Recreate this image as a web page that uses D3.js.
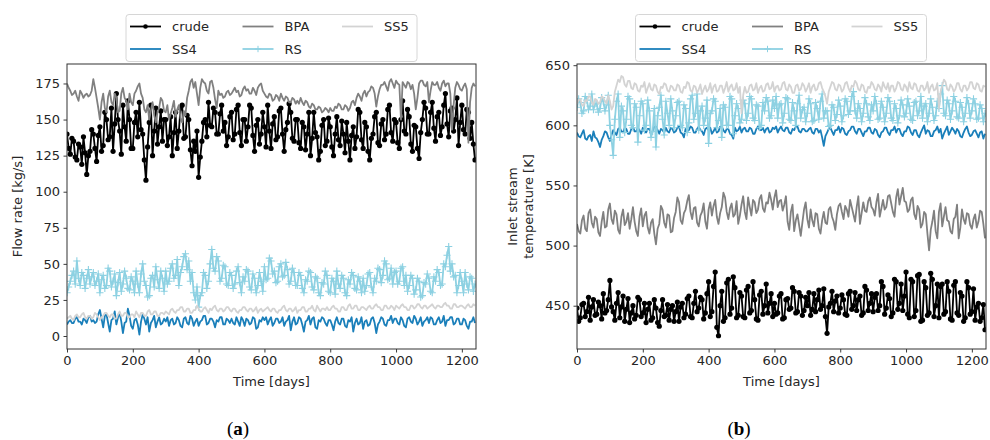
<!DOCTYPE html>
<html><head><meta charset="utf-8">
<script src="https://cdn.jsdelivr.net/npm/d3@7"></script>
<style>body{margin:0;background:#fff}svg{display:block}</style>
</head><body>
<svg id="chart" width="990" height="440"></svg>
<script>
// Day index: 0,5,10,...,1240
const days = d3.range(0, 1241, 5);
const xTicks = [0, 200, 400, 600, 800, 1000, 1200];
const yTicksA = [0, 25, 50, 75, 100, 125, 150, 175];
const yTicksB = [450, 500, 550, 600, 650];
const seriesNames = ["crude", "SS4", "BPA", "RS", "SS5"];

// Panel (a) flow rate [kg/s]
const flowCrude = [
 140,130,126,137,135,124,122,133,131,119,138,127,112,125,128,143,140,130,121,139,
 145,128,132,155,150,136,138,158,128,147,168,150,142,126,160,145,135,163,150,130,
 130,148,155,138,162,143,140,122,108,131,148,160,125,142,158,133,145,156,135,150,
 150,132,138,152,125,141,155,130,142,158,160,137,138,153,150,129,118,135,128,142,
 110,124,135,148,150,138,162,146,145,158,155,140,140,154,160,142,148,132,138,152,
 155,136,140,157,160,141,132,150,150,135,145,160,158,139,128,146,150,133,140,155,
 145,131,160,142,130,147,152,136,138,156,158,140,128,143,148,161,155,137,135,150,
 150,134,130,148,145,129,140,155,125,137,155,141,138,122,128,146,150,132,135,151,
 145,131,125,140,152,136,132,149,140,127,148,135,122,139,145,130,138,157,155,136,
 130,148,145,128,122,137,140,152,155,134,132,147,150,136,140,157,160,141,135,150,
 148,134,130,150,163,142,140,157,152,133,128,146,145,130,123,141,150,162,158,140,
 140,155,162,144,135,152,155,139,145,160,168,147,138,156,158,142,150,165,132,148,
 160,143,140,157,155,137,148,133,122];
const flowBPA = [
 175,172,170,167,168,170,166,163,170,168,165,167,168,166,167,170,178,172,165,158,
 150,162,168,158,155,166,170,162,160,168,165,155,156,168,172,165,163,157,168,162,
 160,168,170,173,175,168,165,157,155,160,150,156,162,153,148,155,158,165,163,156,
 155,160,150,154,158,163,152,157,160,151,148,156,153,165,170,176,178,172,176,168,
 160,172,178,176,175,170,168,176,177,172,164,158,170,167,168,165,166,169,170,167,
 168,170,172,169,170,166,167,171,173,170,171,168,168,172,170,167,172,174,175,170,
 168,166,165,168,167,163,164,167,166,163,168,165,163,166,165,162,162,165,164,161,
 163,161,165,162,160,163,162,159,158,161,160,157,157,159,158,155,156,158,157,155,
 158,156,156,159,158,161,160,157,157,160,159,156,158,162,163,160,165,168,166,163,
 168,170,166,169,170,173,172,168,159,166,171,174,174,176,173,170,176,178,175,172,
 177,175,174,150,176,174,172,176,175,171,174,168,157,165,175,177,177,174,173,176,
 162,170,176,174,174,176,172,170,175,177,173,175,175,168,143,160,172,176,174,171,
 170,173,175,171,134,162,172,175,173];
const flowRS = [
 30,34,38,42,45,36,52,40,35,44,42,33,40,46,36,41,44,35,38,43,
 30,39,42,33,35,47,45,34,38,43,28,37,44,31,36,45,40,33,32,41,
 38,30,45,36,30,43,50,38,35,27,28,40,42,34,48,39,33,45,40,31,
 45,36,38,47,50,40,42,53,35,44,48,55,57,46,52,38,44,30,25,34,
 20,28,30,44,42,33,38,50,60,47,45,55,52,38,40,49,48,36,35,44,
 42,33,36,45,48,37,30,41,38,46,45,34,32,43,40,30,35,44,38,31,
 48,39,40,54,52,43,45,37,38,48,50,41,42,51,46,36,38,47,44,35,
 35,44,42,33,30,39,38,45,44,34,32,41,40,30,28,37,36,45,42,31,
 30,40,38,29,45,36,33,42,40,30,28,39,36,44,42,33,32,41,38,30,
 40,31,35,43,44,34,30,40,38,47,46,37,42,52,50,39,40,47,36,44,
 45,36,38,47,48,35,42,31,35,42,40,29,32,40,38,27,28,37,36,43,
 40,31,30,41,38,46,44,35,36,50,48,56,62,45,50,41,42,30,35,44,
 38,30,44,36,32,41,40,31,36];
const flowSS5 = [
 12,13,14,12,11,14,15,13,13,15,16,13,12,14,14,12,13,16,15,13,
 11,13,14,16,16,14,13,15,15,12,12,15,17,14,14,16,16,13,13,15,
 15,13,17,15,13,16,16,14,14,17,18,15,15,17,17,14,14,16,16,15,
 17,16,15,18,19,17,16,18,18,20,20,17,17,19,19,16,16,18,18,21,
 19,17,17,19,20,18,16,19,18,20,21,18,17,19,19,17,18,20,20,18,
 17,19,19,17,16,18,18,20,20,18,17,19,19,17,18,20,16,18,19,17,
 18,19,20,18,17,19,19,17,16,18,18,20,21,18,17,19,19,17,18,20,
 16,18,18,20,20,17,17,19,19,21,18,17,21,19,17,19,19,18,20,18,
 18,20,21,19,19,17,17,20,20,18,18,21,22,19,19,21,21,18,18,20,
 20,19,18,20,21,19,19,21,22,20,20,18,18,21,21,19,19,21,20,18,
 21,20,19,21,22,20,20,18,18,21,21,19,20,22,22,20,19,21,21,19,
 20,21,22,20,19,21,21,20,20,22,23,21,21,19,19,22,22,20,20,21,
 21,20,19,21,22,20,20,22,21];
const flowSS4 = [
 8,10,11,9,9,12,13,10,10,8,12,11,9,13,14,10,11,9,10,15,
 18,12,6,14,15,9,3,11,12,17,8,13,16,10,2,9,10,19,14,7,
 5,11,12,8,1,10,15,12,8,13,3,9,11,14,6,10,13,8,9,12,
 10,13,7,11,12,8,9,13,11,7,6,12,13,9,8,14,12,7,10,12,
 7,10,11,14,14,8,9,12,12,10,6,11,10,13,13,8,8,12,11,9,
 12,9,8,13,10,7,13,11,7,12,11,8,9,13,12,5,6,11,10,13,
 11,13,8,11,13,7,9,12,12,9,10,13,7,10,11,14,4,10,13,8,
 9,13,12,8,3,10,11,14,8,12,13,6,5,11,10,13,12,9,7,11,
 11,8,4,10,13,9,8,12,12,7,6,11,10,13,3,9,12,8,9,13,
 5,10,11,7,8,12,13,9,2,8,10,13,12,8,7,11,11,14,9,12,
 12,9,8,13,11,7,6,12,13,10,9,14,12,8,10,13,7,10,11,13,
 9,13,12,8,8,11,13,9,10,14,7,11,11,13,13,8,9,12,12,8,
 8,12,11,7,5,10,10,13,9];

// Panel (b) inlet stream temperature [K]
const tempCrude = [
 448,437,440,451,452,441,445,457,438,449,455,442,443,453,450,439,460,444,446,455,
 471,449,445,438,452,461,440,449,458,437,447,456,436,444,450,439,442,457,455,441,
 444,452,436,447,452,438,440,455,448,436,433,446,455,441,442,451,438,447,450,437,
 445,453,437,449,452,440,443,456,458,441,440,452,462,445,448,457,455,439,444,460,
 470,441,445,466,478,432,425,450,462,437,440,469,472,443,448,474,465,440,442,461,
 458,441,440,463,466,444,446,470,455,439,438,459,462,443,450,468,444,452,460,441,
 452,443,444,458,460,439,440,455,456,447,448,465,462,444,445,461,458,442,446,457,
 450,461,442,447,460,445,455,463,447,450,464,441,427,449,452,462,445,454,458,444,
 448,459,455,443,442,460,462,447,450,461,446,455,458,442,444,466,463,446,452,460,
 445,457,460,446,450,470,466,443,448,459,456,441,444,472,470,447,452,468,446,458,
 478,443,440,472,470,441,446,475,476,437,438,470,465,442,444,477,472,441,450,468,
 440,466,468,443,445,470,462,439,438,467,470,444,442,461,458,437,440,470,465,443,
 445,464,438,449,452,437,440,451,430];
const tempBPA = [
 518,512,510,521,525,514,512,527,530,519,515,524,522,511,508,520,528,515,516,530,
 535,522,518,529,526,513,510,524,530,517,520,527,514,522,532,520,512,508,524,531,
 516,525,528,515,510,519,522,510,501,514,518,533,530,519,515,526,525,511,512,523,
 528,540,536,521,518,527,530,537,542,528,522,531,532,519,516,525,528,535,520,514,
 530,536,525,533,538,524,518,527,532,544,540,528,522,531,535,524,526,537,518,525,
 534,541,528,522,540,532,525,538,536,527,530,539,542,531,528,536,535,544,538,530,
 540,546,532,537,538,529,534,541,520,513,528,534,512,521,526,517,508,519,530,536,
 522,515,530,521,516,527,526,514,510,521,528,519,518,530,532,524,520,513,526,533,
 535,528,522,533,530,524,538,532,526,520,532,541,518,527,536,529,528,537,540,532,
 530,525,536,543,524,531,538,530,532,541,542,535,528,524,540,547,534,541,548,537,
 536,528,530,538,540,526,522,533,530,515,518,528,526,510,496,513,520,529,512,506,
 528,535,516,524,532,521,520,512,510,522,524,534,506,515,530,522,518,527,526,517,
 514,522,526,515,520,529,528,518,506];
const tempSS5 = [
 618,621,622,617,616,621,620,624,624,619,617,622,621,618,619,624,623,620,618,625,
 620,613,616,628,633,638,636,641,640,634,632,637,637,631,630,635,634,629,628,633,
 632,636,627,631,635,630,629,634,633,628,626,632,631,635,634,629,628,633,632,629,
 629,634,633,628,627,632,631,636,635,629,628,633,632,627,630,634,626,630,633,628,
 630,635,627,632,634,628,629,633,633,627,631,636,628,632,634,629,630,635,627,632,
 610,625,632,627,628,633,634,629,630,635,627,631,633,628,629,634,635,630,631,636,
 628,632,633,629,630,635,636,630,629,634,632,627,627,633,634,629,630,635,633,628,
 631,635,627,632,634,629,630,635,636,631,628,624,618,628,632,636,635,630,629,634,
 633,628,630,635,636,631,628,633,632,637,635,630,629,634,633,628,627,632,631,636,
 634,630,629,634,632,628,636,632,630,635,628,633,633,628,631,636,635,630,629,634,
 632,628,636,631,630,635,634,629,628,633,633,629,631,636,627,632,634,629,630,635,
 614,628,633,638,636,630,629,634,632,628,630,635,635,630,628,633,633,629,631,636,
 636,631,630,635,634,629,628,633,632];
const tempRS = [
 615,622,619,610,612,624,621,613,616,626,613,618,618,611,614,623,620,612,617,625,
 600,588,575,605,620,626,590,616,612,594,605,624,622,600,598,618,615,586,608,620,
 618,596,600,621,612,590,595,614,582,608,615,625,605,592,620,610,600,622,612,598,
 608,619,620,600,598,617,614,594,602,622,625,605,610,626,596,612,616,600,606,621,
 585,610,612,622,620,598,604,614,590,617,615,600,600,624,622,593,608,618,614,602,
 605,621,618,604,610,624,622,606,604,617,616,598,600,619,612,623,620,606,608,621,
 614,624,606,617,618,602,610,623,622,605,604,619,612,600,618,625,606,613,615,603,
 610,622,618,603,604,619,614,605,620,626,606,612,612,599,600,617,615,604,609,621,
 616,603,608,622,620,609,612,624,628,612,606,618,614,603,610,623,618,607,604,617,
 612,624,618,605,606,620,615,603,610,623,620,606,604,618,614,602,608,621,617,607,
 610,622,616,605,604,619,620,608,612,624,606,616,618,603,610,622,615,604,608,620,
 614,626,633,610,608,621,618,605,612,624,620,607,606,619,615,603,610,623,618,606,
 612,622,618,605,606,617,614,603,610];
const tempSS4 = [
 594,591,590,593,596,589,588,591,592,587,595,590,589,586,582,588,591,595,594,590,
 587,592,596,594,592,597,598,595,594,598,597,593,593,597,599,595,595,598,596,593,
 598,595,594,597,597,592,595,599,599,596,593,597,596,594,598,595,594,598,597,594,
 595,598,599,594,593,590,597,595,596,599,598,594,594,597,599,596,595,592,597,598,
 596,598,593,595,598,594,595,599,599,596,594,597,597,593,592,589,598,595,596,599,
 594,597,598,595,595,598,597,593,593,597,599,596,596,598,594,597,598,594,595,598,
 597,599,594,597,599,596,595,598,598,594,593,597,596,599,599,595,594,597,597,595,
 595,597,598,594,593,597,597,594,596,590,583,591,594,597,598,595,592,596,596,599,
 594,598,597,593,592,595,596,599,599,595,593,597,597,594,591,595,595,598,598,594,
 593,597,596,592,590,594,595,598,598,594,592,596,596,599,594,597,597,593,591,595,
 595,599,598,594,592,596,596,592,590,594,597,600,593,596,595,591,591,595,596,599,
 594,597,589,593,596,599,592,595,598,596,593,597,595,591,590,594,597,599,594,591,
 592,595,596,593,590,594,595,589,593];

const styles = {
  crude: {color: "#000000", marker: "dot"},
  SS4:   {color: "#1a7fba", marker: null},
  BPA:   {color: "#808080", marker: null},
  RS:    {color: "#8dd1e2", marker: "plus"},
  SS5:   {color: "#d3d3d3", marker: null}
};

const svg = d3.select("#chart");
const font = "'DejaVu Sans', sans-serif";

function drawPanel(opts) {
  const {left, right, top, bottom, yDomain, yTicks, data, ylabel, letter, legendX} = opts;
  const x = d3.scaleLinear().domain([0, 1243]).range([left, right]);
  const y = d3.scaleLinear().domain(yDomain).range([bottom, top]);
  const g = svg.append("g");
  const clipId = "clip" + letter;
  svg.append("clipPath").attr("id", clipId).append("rect")
    .attr("x", left).attr("y", top).attr("width", right - left).attr("height", bottom - top);
  const plot = g.append("g").attr("clip-path", `url(#${clipId})`);
  const line = d3.line().x((d, i) => x(days[i])).y(d => y(d));

  seriesNames.forEach(name => {
    const st = styles[name];
    const vals = data[name];
    plot.append("path").datum(vals).attr("d", line)
      .attr("fill", "none").attr("stroke", st.color).attr("stroke-width", 1.8)
      .attr("stroke-linejoin", "round");
    if (st.marker === "dot") {
      plot.append("g").selectAll("circle").data(vals).join("circle")
        .attr("cx", (d, i) => x(days[i])).attr("cy", d => y(d)).attr("r", 2.6)
        .attr("fill", st.color);
    } else if (st.marker === "plus") {
      plot.append("g").selectAll("path").data(vals).join("path")
        .attr("d", (d, i) => {
          const cx = x(days[i]), cy = y(d), s = 3.6;
          return `M${cx - s},${cy}H${cx + s}M${cx},${cy - s}V${cy + s}`;
        })
        .attr("stroke", st.color).attr("stroke-width", 1.1);
    }
  });

  // axes
  const xAxis = d3.axisBottom(x).tickValues(xTicks).tickSize(3.5).tickPadding(3.5).tickFormat(d3.format("d"));
  const yAxis = d3.axisLeft(y).tickValues(yTicks).tickSize(3.5).tickPadding(3.5).tickFormat(d3.format("d"));
  const gx = g.append("g").attr("transform", `translate(0,${bottom})`).call(xAxis);
  const gy = g.append("g").attr("transform", `translate(${left},0)`).call(yAxis);
  [gx, gy].forEach(a => {
    a.select(".domain").remove();
    a.selectAll("line").attr("stroke", "#262626").attr("stroke-width", 0.9);
    a.selectAll("text").attr("font-family", font).attr("font-size", 13).attr("fill", "#262626");
  });
  g.append("rect").attr("x", left).attr("y", top).attr("width", right - left).attr("height", bottom - top)
    .attr("fill", "none").attr("stroke", "#333").attr("stroke-width", 1);

  // x label
  g.append("text").attr("x", (left + right) / 2).attr("y", bottom + 37).attr("text-anchor", "middle")
    .attr("font-family", font).attr("font-size", 13).attr("fill", "#262626").text("Time [days]");
  // y label
  const cy = (top + bottom) / 2;
  ylabel.forEach((t, i) => {
    g.append("text").attr("transform", `translate(${opts.ylabelX + i * 16},${cy}) rotate(-90)`)
      .attr("text-anchor", "middle").attr("font-family", font).attr("font-size", 13)
      .attr("fill", "#262626").text(t);
  });

  // panel letter
  const lt = g.append("text").attr("x", opts.letterX).attr("y", 435).attr("text-anchor", "middle")
    .attr("font-family", "'Liberation Serif', 'DejaVu Serif', serif").attr("font-size", 19).attr("fill", "#000");
  lt.append("tspan").text("(");
  lt.append("tspan").attr("font-weight", "bold").text(letter);
  lt.append("tspan").text(")");

  // legend
  const lg = svg.append("g").attr("transform", `translate(${legendX},14)`);
  lg.append("rect").attr("x", 0.5).attr("y", 0.5).attr("width", 291).attr("height", 47).attr("rx", 3)
    .attr("fill", "#fff").attr("fill-opacity", 0.85).attr("stroke", "#d6d6d6").attr("stroke-width", 1);
  const cols = [4.5, 117, 216.5];
  const rows = [12.5, 35];
  const layout = [["crude", 0, 0], ["SS4", 0, 1], ["BPA", 1, 0], ["RS", 1, 1], ["SS5", 2, 0]];
  layout.forEach(([name, c, r]) => {
    const st = styles[name];
    const hx = cols[c], hy = rows[r];
    lg.append("line").attr("x1", hx).attr("x2", hx + 31).attr("y1", hy).attr("y2", hy)
      .attr("stroke", st.color).attr("stroke-width", 1.8);
    if (st.marker === "dot") {
      lg.append("circle").attr("cx", hx + 15.5).attr("cy", hy).attr("r", 2.3).attr("fill", st.color);
    } else if (st.marker === "plus") {
      lg.append("path").attr("d", `M${hx + 12.3},${hy}H${hx + 18.7}M${hx + 15.5},${hy - 3.2}V${hy + 3.2}`)
        .attr("stroke", st.color).attr("stroke-width", 1);
    }
    lg.append("text").attr("x", hx + 42).attr("y", hy + 4.7).attr("font-family", font).attr("font-size", 13)
      .attr("fill", "#262626").text(name);
  });
}

drawPanel({
  left: 67, right: 476, top: 64, bottom: 349,
  yDomain: [-9, 188.5], yTicks: yTicksA,
  data: {crude: flowCrude, SS4: flowSS4, BPA: flowBPA, RS: flowRS, SS5: flowSS5},
  ylabel: ["Flow rate [kg/s]"], ylabelX: 22, letter: "a", letterX: 238, legendX: 125.5
});
drawPanel({
  left: 577, right: 986, top: 64, bottom: 349,
  yDomain: [414, 651], yTicks: yTicksB,
  data: {crude: tempCrude, SS4: tempSS4, BPA: tempBPA, RS: tempRS, SS5: tempSS5},
  ylabel: ["Inlet stream", "temperature [K]"], ylabelX: 517, letter: "b", letterX: 739, legendX: 635
});
</script>
</body></html>
